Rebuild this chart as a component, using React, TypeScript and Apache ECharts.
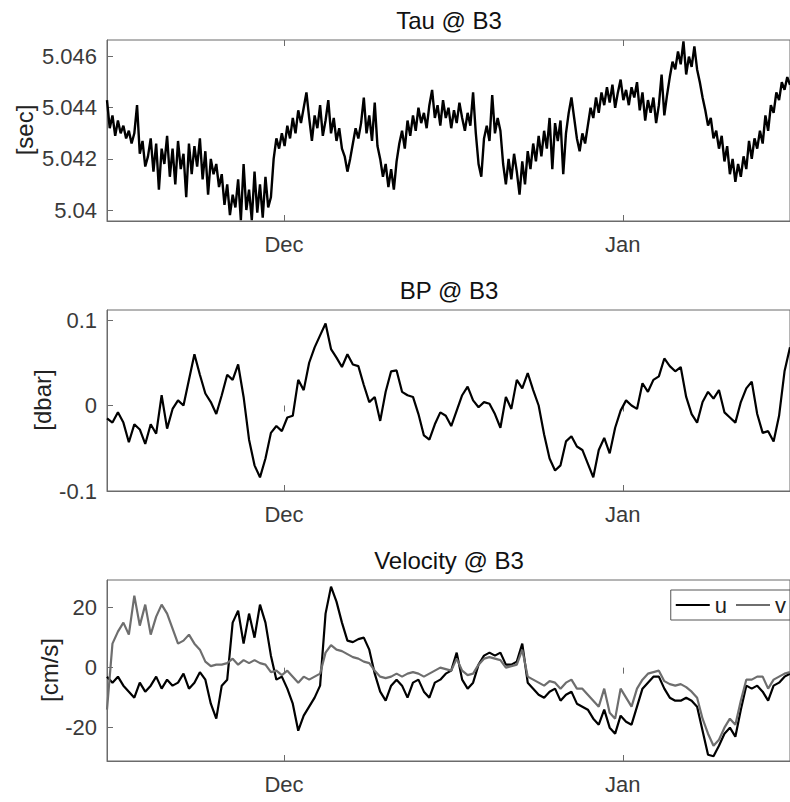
import React, { useEffect, useRef } from "react";
import * as echarts from "echarts";

// Time axis is in days relative to 1 Dec; samples are evenly spaced.
const dayMin = -16.2;
const dayMax = 46.3;
const monthDays = [0, 31];
const monthLabels = ["Dec", "Jan"];

// Travel time (tau) at B3, 6-hourly samples
const tauStart = -16.2;
const tauStep = 0.25;
const tau = [
  5.0443, 5.0432, 5.0437, 5.0429, 5.0435, 5.0430, 5.0433, 5.0428,
  5.0431, 5.0426, 5.0430, 5.0441, 5.0422, 5.0427, 5.0417, 5.0421,
  5.0428, 5.0415, 5.0426, 5.0408, 5.0424, 5.0418, 5.0429, 5.0413,
  5.0424, 5.0410, 5.0427, 5.0416, 5.0422, 5.0405, 5.0426, 5.0414,
  5.0425, 5.0417, 5.0428, 5.0412, 5.0423, 5.0406, 5.0420, 5.0414,
  5.0418, 5.0409, 5.0414, 5.0402, 5.0410, 5.0398, 5.0406, 5.0401,
  5.0412, 5.0396, 5.0418, 5.0400, 5.0408, 5.0396, 5.0415, 5.0399,
  5.0410, 5.0397, 5.0413, 5.0401, 5.0405, 5.0420, 5.0428, 5.0424,
  5.0430, 5.0425, 5.0433, 5.0428, 5.0436, 5.0430, 5.0439, 5.0434,
  5.0440, 5.0446, 5.0436, 5.0427, 5.0437, 5.0432, 5.0441, 5.0429,
  5.0435, 5.0443, 5.0430, 5.0436, 5.0427, 5.0432, 5.0424, 5.0421,
  5.0415, 5.0420, 5.0426, 5.0432, 5.0428, 5.0434, 5.0444, 5.0430,
  5.0437, 5.0427, 5.0442, 5.0425, 5.0420, 5.0413, 5.0418, 5.0409,
  5.0416, 5.0408, 5.0419, 5.0426, 5.0431, 5.0424, 5.0435, 5.0429,
  5.0437, 5.0431, 5.0440, 5.0434, 5.0438, 5.0432, 5.0441, 5.0447,
  5.0436, 5.0441, 5.0433, 5.0443, 5.0436, 5.0440, 5.0432, 5.0439,
  5.0434, 5.0442, 5.0436, 5.0431, 5.0438, 5.0433, 5.0446, 5.0430,
  5.0418, 5.0413, 5.0428, 5.0433, 5.0427, 5.0445, 5.0430, 5.0436,
  5.0431, 5.0418, 5.0410, 5.0420, 5.0412, 5.0422, 5.0415, 5.0406,
  5.0419, 5.0410, 5.0423, 5.0416, 5.0426, 5.0419, 5.0429, 5.0421,
  5.0431, 5.0424, 5.0436, 5.0416, 5.0434, 5.0427, 5.0435, 5.0414,
  5.0430, 5.0438, 5.0444, 5.0436, 5.0428, 5.0423, 5.0430, 5.0426,
  5.0433, 5.0440, 5.0436, 5.0444, 5.0438, 5.0446, 5.0441, 5.0448,
  5.0442, 5.0449, 5.0440, 5.0446, 5.0451, 5.0443, 5.0447, 5.0441,
  5.0448, 5.0444, 5.0450, 5.0439, 5.0446, 5.0435, 5.0443, 5.0438,
  5.0444, 5.0434, 5.0441, 5.0453, 5.0437, 5.0445, 5.0452, 5.0458,
  5.0455, 5.0462, 5.0457, 5.0466, 5.0453, 5.0460, 5.0456, 5.0464,
  5.0455, 5.0450, 5.0444, 5.0439, 5.0433, 5.0436, 5.0428, 5.0431,
  5.0424, 5.0429, 5.0419, 5.0425, 5.0414, 5.0420, 5.0411, 5.0418,
  5.0413, 5.0421, 5.0416, 5.0427, 5.0420, 5.0428, 5.0424, 5.0431,
  5.0426, 5.0437, 5.0431, 5.0441, 5.0438, 5.0446, 5.0443, 5.0450,
  5.0447, 5.0452, 5.0449,
];
const tauTicks = [5.04, 5.042, 5.044, 5.046];
const tauTickLabels = ["5.04", "5.042", "5.044", "5.046"];

// Bottom pressure anomaly at B3, 12-hourly samples
const bpStart = -16.2;
const bpStep = 0.5;
const bp = [
  -0.015, -0.02, -0.008, -0.02, -0.043, -0.022, -0.028, -0.045,
  -0.022, -0.033, 0.012, -0.027, -0.004, 0.006, 0.0, 0.03,
  0.06, 0.036, 0.014, 0.004, -0.01, 0.012, 0.036, 0.03,
  0.048, 0.01, -0.04, -0.07, -0.084, -0.062, -0.032, -0.024,
  -0.03, -0.014, -0.012, 0.03, 0.018, 0.05, 0.068, 0.082,
  0.096, 0.066, 0.056, 0.045, 0.06, 0.048, 0.046, 0.024,
  0.004, 0.01, -0.018, 0.016, 0.04, 0.041, 0.016, 0.012,
  0.01, -0.01, -0.035, -0.04, -0.022, -0.008, -0.012, -0.024,
  -0.006, 0.012, 0.022, 0.006, -0.002, 0.004, 0.002, -0.01,
  -0.026, 0.01, -0.004, 0.03, 0.02, 0.038, 0.018, 0.0,
  -0.034, -0.062, -0.076, -0.07, -0.042, -0.036, -0.048, -0.052,
  -0.068, -0.084, -0.052, -0.038, -0.056, -0.026, -0.006, 0.006,
  0.0, -0.004, 0.026, 0.016, 0.03, 0.034, 0.055, 0.046,
  0.04, 0.045, 0.01, -0.01, -0.02, 0.004, 0.016, 0.008,
  0.018, -0.008, -0.014, -0.02, 0.004, 0.02, 0.028, -0.01,
  -0.032, -0.03, -0.042, -0.012, 0.04, 0.068,
];
const bpTicks = [-0.1, 0, 0.1];
const bpTickLabels = ["-0.1", "0", "0.1"];

// Velocity components at B3, 12-hourly samples
const velStart = -16.2;
const velStep = 0.5;
const uVel = [
  -3, -5, -3, -6, -8, -10, -5, -8,
  -6, -3, -7, -4, -6, -5, -2, -7,
  -5, -1.5, -4, -12, -17, -6, -4, 15,
  19, 8, 18, 10, 21, 15, 4, -4,
  -3, -7, -12, -21, -16, -13, -10, -6,
  18, 27, 22, 15, 9, 8.5, 9.5, 10,
  6, -2, -8, -11, -6, -4, -6, -10,
  -5, -4, -8, -10, -5, -4, -2, -1,
  5, -4, -7, -5, 1, 4, 5, 4,
  5, 1, 1, 2, 8, -5, -7, -9,
  -10, -8, -7, -11, -9, -8, -12, -13,
  -14, -17, -19, -14, -20, -22, -16, -18,
  -19, -13, -7, -5, -3, -3, -7, -10,
  -11, -11, -10, -11, -13, -21, -29, -29.5,
  -26, -22, -20, -23, -14, -6, -7, -6,
  -8, -11, -6, -5, -3, -2,
];
const vVel = [
  -14, 8, 12, 15, 11, 24, 14, 21,
  11, 17, 21, 18, 13, 8, 9, 11,
  8, 6, 2, 0.5, 1, 1, 1.5, 3,
  1, 2.5, 1.5, 2.5, 1.5, 1, -1.5, -1,
  -2.5, -1, -3, -5, -3, -4, -3, -2,
  5, 7.5, 6, 5.5, 4.5, 3.5, 3, 2,
  1.5, -1, -3, -3.5, -3, -2, -3, -2,
  -1.5, -2, -3, -2, -1, 0, -0.5, -1,
  3, -1, -2.5, -2, 1, 3, 3.5, 3,
  2.5, 0, 0.5, 1, 6, -3, -4, -5,
  -6, -4.5, -5, -7, -5, -4, -7, -7,
  -9, -11, -13, -7, -15, -17, -7, -10,
  -13, -7, -4, -2, -1.5, -1, -4.5, -5.5,
  -6, -5.5, -6.5, -8, -10, -17, -22, -26,
  -24, -20, -17, -19, -11, -4, -4, -3,
  -3, -7, -4, -3, -2, -1.5,
];
const velTicks = [-20, 0, 20];
const velTickLabels = ["-20", "0", "20"];

const FONT = "'Liberation Sans', Arial, Helvetica, sans-serif";
const AXIS_COLOR = "#6b6b6b";
const LABEL_COLOR = "#3a3a3a";
const V_COLOR = "#6e6e6e";

const GRID_LEFT = 107;
const GRID_WIDTH = 684;
const GRID_HEIGHT = 181;
const GRID_TOPS = [40, 310, 580];

function series(start: number, step: number, values: number[]) {
  return values.map((v, i) => [start + i * step, v]);
}

function labelFor(ticks: number[], labels: string[]) {
  return (v: number) => {
    const k = ticks.findIndex((t) => Math.abs(t - v) < 1e-9);
    return k >= 0 ? labels[k] : "";
  };
}

export default function App() {
  const ref = useRef<HTMLDivElement>(null);

  useEffect(() => {
    if (!ref.current) return;
    const chart = echarts.init(ref.current, undefined, { renderer: "svg" });

    const grids = GRID_TOPS.map((top) => ({
      left: GRID_LEFT,
      top,
      width: GRID_WIDTH,
      height: GRID_HEIGHT,
      show: true,
      borderColor: AXIS_COLOR,
      borderWidth: 1,
      backgroundColor: "#fff",
    }));

    const xAxes: any[] = [];
    GRID_TOPS.forEach((_, g) => {
      xAxes.push({
        type: "value",
        gridIndex: g,
        min: dayMin,
        max: dayMax,
        axisLine: { show: true, onZero: false, lineStyle: { color: AXIS_COLOR } },
        axisTick: {
          show: true,
          inside: true,
          length: 6,
          customValues: monthDays,
          lineStyle: { color: AXIS_COLOR },
        },
        axisLabel: {
          customValues: monthDays,
          formatter: labelFor(monthDays, monthLabels),
          margin: 12,
          fontSize: 22,
          fontFamily: FONT,
          color: LABEL_COLOR,
        },
        splitLine: { show: false },
      });
      xAxes.push({
        type: "value",
        gridIndex: g,
        position: "top",
        min: dayMin,
        max: dayMax,
        axisLine: { show: false },
        axisTick: {
          show: true,
          inside: true,
          length: 6,
          customValues: monthDays,
          lineStyle: { color: AXIS_COLOR },
        },
        axisLabel: { show: false },
        splitLine: { show: false },
      });
    });

    const yDefs = [
      { min: 5.03957, max: 5.04665, ticks: tauTicks, labels: tauTickLabels },
      { min: -0.1, max: 0.1117, ticks: bpTicks, labels: bpTickLabels },
      { min: -31.1, max: 29.2, ticks: velTicks, labels: velTickLabels },
    ];
    const yAxes = yDefs.map((d, g) => ({
      type: "value",
      gridIndex: g,
      min: d.min,
      max: d.max,
      axisLine: { show: true, onZero: false, lineStyle: { color: AXIS_COLOR } },
      axisTick: {
        show: true,
        inside: true,
        length: 6,
        customValues: d.ticks,
        lineStyle: { color: AXIS_COLOR },
      },
      axisLabel: {
        customValues: d.ticks,
        formatter: labelFor(d.ticks, d.labels),
        margin: 10,
        fontSize: 22,
        fontFamily: FONT,
        color: LABEL_COLOR,
      },
      splitLine: { show: false },
    }));

    const titles = ["Tau @ B3", "BP @ B3", "Velocity @ B3"];
    const yNames = [
      { text: "[sec]", x: 24, y: 130 },
      { text: "[dbar]", x: 42, y: 400 },
      { text: "[cm/s]", x: 49, y: 670 },
    ];

    const graphic: any[] = [];
    titles.forEach((t, g) => {
      graphic.push({
        type: "text",
        x: GRID_LEFT + GRID_WIDTH / 2,
        y: GRID_TOPS[g] - 20,
        style: {
          text: t,
          fontSize: 24,
          fontFamily: FONT,
          fill: "#111",
          textAlign: "center",
          textVerticalAlign: "middle",
        },
        z: 10,
      });
    });
    yNames.forEach((n) => {
      graphic.push({
        type: "text",
        x: n.x,
        y: n.y,
        rotation: Math.PI / 2,
        style: {
          text: n.text,
          fontSize: 24,
          fontFamily: FONT,
          fill: "#222",
          textAlign: "center",
          textVerticalAlign: "middle",
        },
        z: 10,
      });
    });

    chart.setOption({
      animation: false,
      backgroundColor: "#fff",
      grid: grids,
      xAxis: xAxes,
      yAxis: yAxes,
      legend: {
        data: ["u", "v"],
        right: 0,
        top: 590,
        orient: "horizontal",
        backgroundColor: "#fff",
        borderColor: "#555",
        borderWidth: 1,
        padding: [4, 4, 4, 4],
        itemWidth: 34,
        itemHeight: 12,
        itemGap: 8,
        itemStyle: { opacity: 0 },
        textStyle: { fontSize: 22, fontFamily: FONT, color: "#222" },
      },
      graphic,
      series: [
        {
          name: "tau",
          type: "line",
          xAxisIndex: 0,
          yAxisIndex: 0,
          data: series(tauStart, tauStep, tau),
          symbol: "none",
          lineStyle: { color: "#000", width: 2.4 },
        },
        {
          name: "bp",
          type: "line",
          xAxisIndex: 2,
          yAxisIndex: 1,
          data: series(bpStart, bpStep, bp),
          symbol: "none",
          lineStyle: { color: "#000", width: 2.2 },
        },
        {
          name: "u",
          type: "line",
          xAxisIndex: 4,
          yAxisIndex: 2,
          data: series(velStart, velStep, uVel),
          symbol: "none",
          itemStyle: { color: "#000" },
          lineStyle: { color: "#000", width: 2.2 },
        },
        {
          name: "v",
          type: "line",
          xAxisIndex: 4,
          yAxisIndex: 2,
          data: series(velStart, velStep, vVel),
          symbol: "none",
          itemStyle: { color: V_COLOR },
          lineStyle: { color: V_COLOR, width: 2.2 },
        },
      ],
    });

    return () => chart.dispose();
  }, []);

  return (
    <div
      ref={ref}
      style={{ position: "fixed", left: 0, top: 0, width: 790, height: 802 }}
    />
  );
}
